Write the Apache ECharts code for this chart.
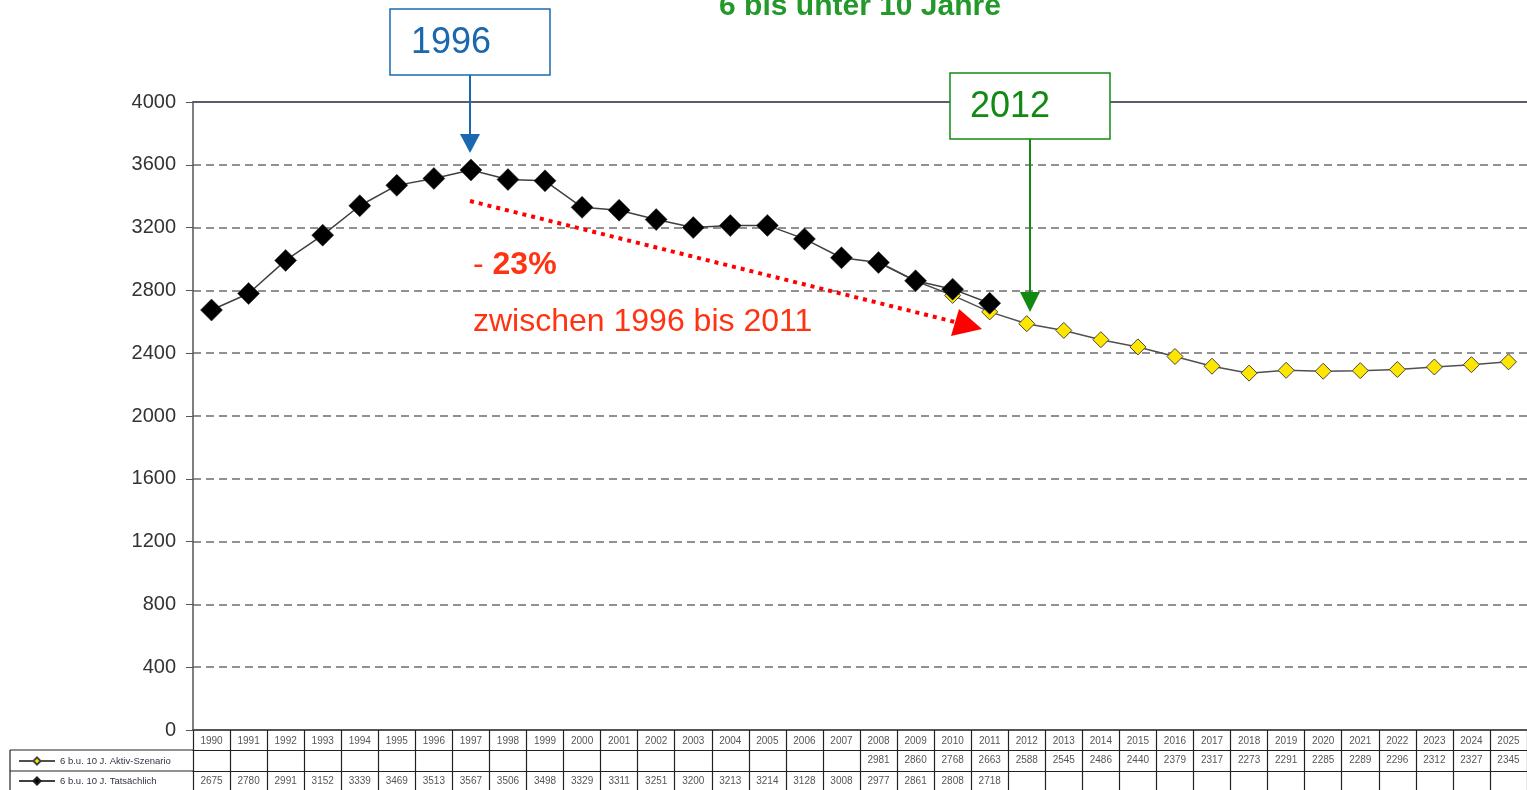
<!DOCTYPE html>
<html>
<head>
<meta charset="utf-8">
<script src="https://cdn.jsdelivr.net/npm/echarts@6/dist/echarts.min.js"></script>
<style>
  html, body { margin: 0; padding: 0; background: #fff; }
  #main { width: 1527px; height: 790px; }
</style>
</head>
<body>
<div id="main"></div>
<script>
const years = ['1990','1991','1992','1993','1994','1995','1996','1997','1998','1999',
  '2000','2001','2002','2003','2004','2005','2006','2007','2008','2009','2010','2011',
  '2012','2013','2014','2015','2016','2017','2018','2019','2020','2021','2022','2023','2024','2025'];

// 6 b.u. 10 J. Tatsächlich (1990-2011)
const tatsaechlich = [2675,2780,2991,3152,3339,3469,3513,3567,3506,3498,3329,3311,3251,3200,3213,
  3214,3128,3008,2977,2861,2808,2718,
  null,null,null,null,null,null,null,null,null,null,null,null,null,null];

// 6 b.u. 10 J. Aktiv-Szenario (2008-2025)
const aktivSzenario = [null,null,null,null,null,null,null,null,null,null,null,null,null,null,null,null,null,null,
  2981,2860,2768,2663,2588,2545,2486,2440,2379,2317,2273,2291,2285,2289,2296,2312,2327,2345];

const yTicks = [0,400,800,1200,1600,2000,2400,2800,3200,3600,4000];

const FONT = '"Liberation Sans", Arial, sans-serif';
const lineCol = '#222';
const nameAktiv = '6 b.u. 10 J. Aktiv-Szenario';
const nameTats = '6 b.u. 10 J. Tatsächlich';

const chart = echarts.init(document.getElementById('main'));

function tableAxis(offset, values, tickLen, margin) {
  return {
    type: 'category',
    data: years,
    position: 'bottom',
    offset: offset,
    gridIndex: 0,
    axisLine: { show: true, lineStyle: { color: lineCol, width: 1.2 } },
    axisTick: { show: true, interval: 0, length: tickLen, lineStyle: { color: lineCol, width: 1.2 } },
    axisLabel: {
      interval: 0, margin: margin, fontSize: 10, color: '#555', fontFamily: FONT,
      formatter: (v, i) => values[i] == null ? '' : String(values[i])
    },
    splitLine: { show: false }
  };
}

function tableLegend(name, top) {
  return {
    left: 13,
    top: top,
    itemWidth: 36,
    itemHeight: 9,
    selectedMode: false,
    textStyle: { fontSize: 9.5, color: '#334', fontFamily: FONT },
    data: [name]
  };
}

const option = {
  animation: false,
  grid: { left: 193, top: 102, width: 1344, height: 628 },
  legend: [tableLegend(nameAktiv, 751), tableLegend(nameTats, 771)],
  xAxis: [
    {
      type: 'category',
      data: years,
      position: 'bottom',
      axisLine: { show: true, lineStyle: { color: '#555', width: 2 } },
      axisTick: { show: true, interval: 0, length: 20, lineStyle: { color: lineCol, width: 1.2 } },
      axisLabel: { interval: 0, margin: 6, fontSize: 10, color: '#555', fontFamily: FONT },
      splitLine: { show: false }
    },
    tableAxis(20, aktivSzenario, 21, 5),
    tableAxis(41, tatsaechlich, 20, 5),
    {
      type: 'category',
      data: years,
      position: 'top',
      axisLine: { show: true, lineStyle: { color: '#5c5c6c', width: 2 } },
      axisTick: { show: false },
      axisLabel: { show: false }
    }
  ],
  yAxis: {
    type: 'value',
    min: 0,
    max: 4000,
    interval: 400,
    axisLine: { show: true, lineStyle: { color: '#555', width: 1.5 } },
    axisTick: { show: true, length: 7, lineStyle: { color: '#555' } },
    axisLabel: {
      margin: 17, fontSize: 20, color: '#333', fontFamily: FONT,
      formatter: v => yTicks.indexOf(v) >= 0 ? String(v) : ''
    },
    splitLine: { show: true, lineStyle: { color: '#6e6e6e', width: 1.5, type: [8, 5] } }
  },
  series: [
    {
      name: nameAktiv,
      type: 'line',
      data: aktivSzenario,
      symbol: 'diamond',
      symbolSize: 16,
      lineStyle: { color: '#505050', width: 1.5 },
      itemStyle: { color: '#ffe600', borderColor: '#444', borderWidth: 1 },
      z: 2
    },
    {
      name: nameTats,
      type: 'line',
      data: tatsaechlich,
      symbol: 'diamond',
      symbolSize: 22,
      lineStyle: { color: '#404040', width: 1.5 },
      itemStyle: { color: '#000', borderColor: '#222', borderWidth: 0.5 },
      z: 3
    }
  ],
  graphic: [
    // title (cut at top)
    { type: 'text', style: {
      text: '6 bis unter 10 Jahre', x: 860, y: 7, align: 'center', verticalAlign: 'middle',
      fill: '#22992a', font: 'bold 30px ' + FONT } },
    // 1996 box + arrow
    { type: 'rect', shape: { x: 390, y: 9, width: 160, height: 66 },
      style: { fill: '#fff', stroke: '#1a68b0', lineWidth: 1.5 }, z: 10 },
    { type: 'text', style: { text: '1996', x: 411, y: 43, verticalAlign: 'middle',
      fill: '#1a68b0', font: '36px ' + FONT }, z: 11 },
    { type: 'line', shape: { x1: 470, y1: 75, x2: 470, y2: 136 },
      style: { stroke: '#1a68b0', lineWidth: 2 }, z: 10 },
    { type: 'polygon', shape: { points: [[460, 134], [480, 134], [470, 153]] },
      style: { fill: '#1a68b0' }, z: 10 },
    // 2012 box + arrow
    { type: 'rect', shape: { x: 950, y: 73, width: 160, height: 66 },
      style: { fill: '#fff', stroke: '#128a12', lineWidth: 1.5 }, z: 10 },
    { type: 'text', style: { text: '2012', x: 970, y: 107, verticalAlign: 'middle',
      fill: '#128a12', font: '36px ' + FONT }, z: 11 },
    { type: 'line', shape: { x1: 1030, y1: 139, x2: 1030, y2: 294 },
      style: { stroke: '#128a12', lineWidth: 2 }, z: 10 },
    { type: 'polygon', shape: { points: [[1020, 292], [1040, 292], [1030, 312]] },
      style: { fill: '#128a12' }, z: 10 },
    // red dotted arrow
    { type: 'line', shape: { x1: 470, y1: 201, x2: 955, y2: 322 },
      style: { stroke: '#ff0000', lineWidth: 4, lineDash: [4, 5] }, z: 10 },
    { type: 'polygon', shape: { points: [[959, 309], [982, 329], [951, 336]] },
      style: { fill: '#ff0000' }, z: 10 },
    { type: 'text', style: { text: '{a|- }{b|23%}', x: 473, y: 265, verticalAlign: 'middle',
      rich: {
        a: { fill: '#ff3311', font: '32px ' + FONT },
        b: { fill: '#ff3311', font: 'bold 32px ' + FONT }
      } }, z: 11 },
    { type: 'text', style: { text: 'zwischen 1996 bis 2011', x: 473, y: 322, verticalAlign: 'middle',
      fill: '#ff3311', font: '32px ' + FONT }, z: 11 },
    // legend cell of the data table
    { type: 'line', shape: { x1: 10, y1: 750, x2: 193, y2: 750 }, style: { stroke: lineCol, lineWidth: 1.2 } },
    { type: 'line', shape: { x1: 10, y1: 771, x2: 193, y2: 771 }, style: { stroke: lineCol, lineWidth: 1.2 } },
    { type: 'line', shape: { x1: 10, y1: 750, x2: 10, y2: 790 }, style: { stroke: lineCol, lineWidth: 1.2 } }
  ]
};

chart.setOption(option);
</script>
</body>
</html>
